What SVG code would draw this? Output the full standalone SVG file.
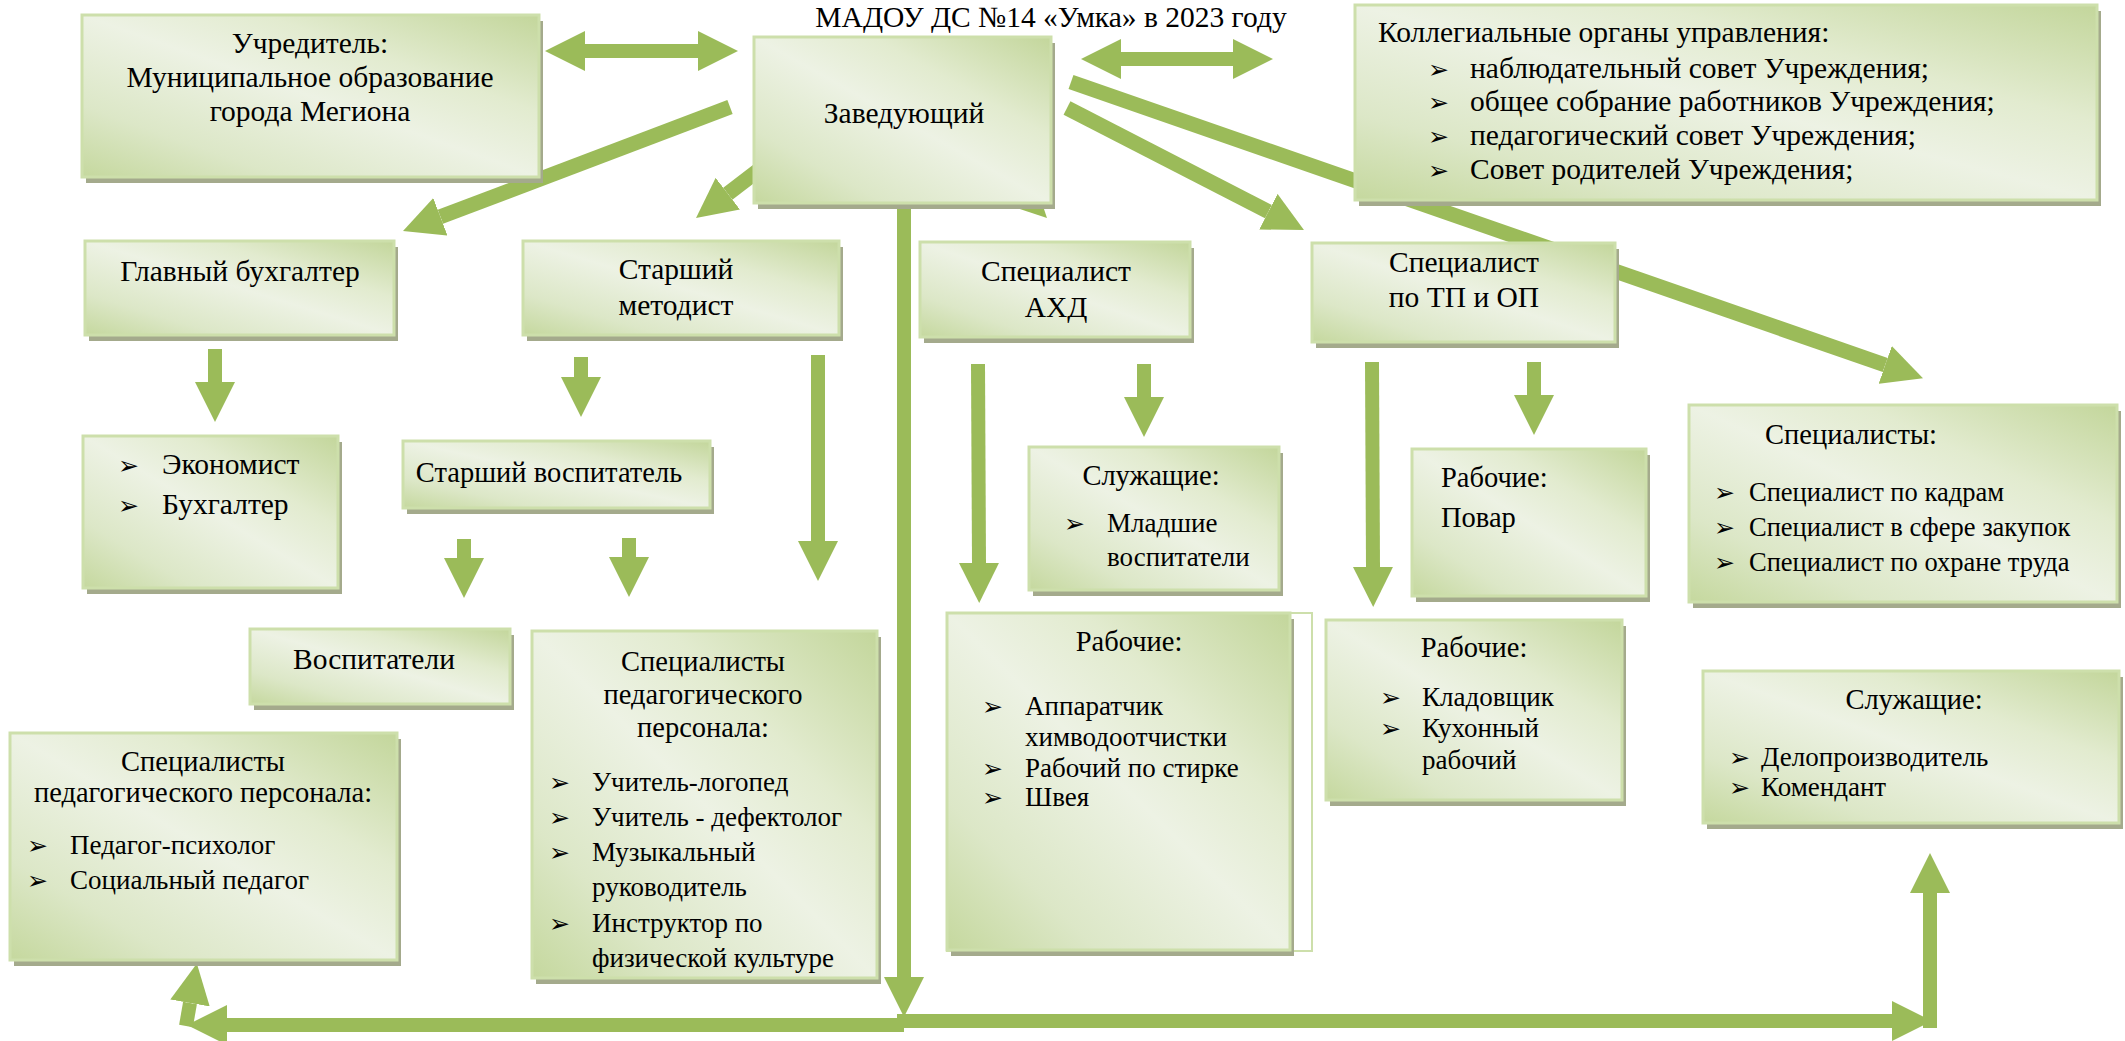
<svg xmlns="http://www.w3.org/2000/svg" width="2125" height="1041" viewBox="0 0 2125 1041" font-family="Liberation Serif, Times New Roman, serif">
<style>
.bx{fill:url(#g);stroke:#cddfab;stroke-width:3}
.sh{fill:#a4aa8c}
.t{font-family:"Liberation Serif","Times New Roman",serif;font-size:29.5px;fill:#000}
.m{font-size:28.5px}
.i{font-size:27px}
.s{font-size:26.5px}
.c{text-anchor:middle}
.bl{font-family:"DejaVu Sans",sans-serif;font-size:25px}
.ln{stroke:#9bbb59;fill:none;stroke-linecap:butt}
.w15{stroke-width:15}
.w14{stroke-width:14}
</style>
<defs>
<linearGradient id="g" x1="1" y1="0" x2="0" y2="1">
<stop offset="0" stop-color="#c3d69b"/>
<stop offset="0.3" stop-color="#e2ebcf"/>
<stop offset="0.5" stop-color="#edf2e4"/>
<stop offset="0.78" stop-color="#dce7c7"/>
<stop offset="1" stop-color="#c5d89e"/>
</linearGradient>
<marker id="ah" viewBox="0 0 40 40" markerWidth="40" markerHeight="40" refX="0" refY="20" orient="auto-start-reverse" markerUnits="userSpaceOnUse">
<path d="M0,0 L40,20 L0,40 Z" fill="#9bbb59"/>
</marker>
</defs>
<rect width="2125" height="1041" fill="#fff"/>
<text class="t c" x="1051" y="27">МАДОУ ДС №14 «Умка» в 2023 году</text>

<g id="connectors">
<line class="ln w14" x1="585" y1="51" x2="698" y2="51" marker-start="url(#ah)" marker-end="url(#ah)"/>
<line class="ln w14" x1="1121" y1="59" x2="1233" y2="59" marker-start="url(#ah)" marker-end="url(#ah)"/>
<line class="ln w15" x1="730" y1="107" x2="440.4" y2="216.8" marker-end="url(#ah)"/>
<line class="ln w15" x1="798" y1="140" x2="727.8" y2="193.7" marker-end="url(#ah)"/>
<line class="ln w15" x1="969" y1="140" x2="1018.7" y2="189.7" marker-end="url(#ah)"/>
<line class="ln w15" x1="1067" y1="108" x2="1268.4" y2="211.7" marker-end="url(#ah)"/>
<line class="ln w15" x1="1071" y1="82" x2="1885.2" y2="365" marker-end="url(#ah)"/>
<line class="ln w14" x1="215" y1="349" x2="215" y2="382" marker-end="url(#ah)"/>
<line class="ln w14" x1="581" y1="357" x2="581" y2="377" marker-end="url(#ah)"/>
<line class="ln w14" x1="818" y1="355" x2="818" y2="541" marker-end="url(#ah)"/>
<line class="ln w14" x1="464" y1="539" x2="464" y2="558" marker-end="url(#ah)"/>
<line class="ln w14" x1="629" y1="538" x2="629" y2="557" marker-end="url(#ah)"/>
<line class="ln w14" x1="978" y1="364" x2="979" y2="563" marker-end="url(#ah)"/>
<line class="ln w14" x1="1144" y1="364" x2="1144" y2="397" marker-end="url(#ah)"/>
<line class="ln w14" x1="1372" y1="362" x2="1373" y2="567" marker-end="url(#ah)"/>
<line class="ln w14" x1="1534" y1="362" x2="1534" y2="395" marker-end="url(#ah)"/>
<line class="ln w14" x1="904" y1="143" x2="904" y2="977" marker-end="url(#ah)"/>
<line class="ln w14" x1="904" y1="1025" x2="227" y2="1025" marker-end="url(#ah)"/>
<line class="ln w14" x1="897" y1="1021" x2="1892" y2="1021" marker-end="url(#ah)"/>
<line class="ln w14" x1="1930" y1="1028" x2="1930" y2="893" marker-end="url(#ah)"/>
<line class="ln w14" x1="186" y1="1026" x2="190" y2="1003" marker-end="url(#ah)"/>
</g>

<g id="n-uchreditel">
<rect class="sh" x="86" y="21" width="457" height="162"/>
<rect class="bx" x="82" y="15" width="457" height="162"/>
<text class="t c" x="310" y="53">Учредитель:</text>
<text class="t c" x="310" y="87">Муниципальное образование</text>
<text class="t c" x="310" y="121">города Мегиона</text>
</g>

<g id="n-zaveduyushchiy">
<rect class="sh" x="758" y="43" width="297" height="166"/>
<rect class="bx" x="754" y="37" width="297" height="166"/>
<text class="t c" x="904" y="123">Заведующий</text>
</g>

<g id="n-kollegialnye">
<rect class="sh" x="1359" y="11" width="742" height="195"/>
<rect class="bx" x="1355" y="5" width="742" height="195"/>
<text class="t" x="1378" y="42">Коллегиальные органы управления:</text>
<text class="t" x="1428" y="78"><tspan class="bl">➢</tspan><tspan x="1470">наблюдательный совет Учреждения;</tspan></text>
<text class="t" x="1428" y="111"><tspan class="bl">➢</tspan><tspan x="1470">общее собрание работников Учреждения;</tspan></text>
<text class="t" x="1428" y="145"><tspan class="bl">➢</tspan><tspan x="1470">педагогический совет Учреждения;</tspan></text>
<text class="t" x="1428" y="179"><tspan class="bl">➢</tspan><tspan x="1470">Совет родителей Учреждения;</tspan></text>
</g>

<g id="n-glavbuh">
<rect class="sh" x="89" y="247" width="309" height="94"/>
<rect class="bx" x="85" y="241" width="309" height="94"/>
<text class="t c" x="240" y="281">Главный бухгалтер</text>
</g>

<g id="n-metodist">
<rect class="sh" x="527" y="247" width="316" height="94"/>
<rect class="bx" x="523" y="241" width="316" height="94"/>
<text class="t c" x="676" y="279">Старший</text>
<text class="t c" x="676" y="315">методист</text>
</g>

<g id="n-ahd">
<rect class="sh" x="924" y="248" width="270" height="95"/>
<rect class="bx" x="920" y="242" width="270" height="95"/>
<text class="t c" x="1056" y="281">Специалист</text>
<text class="t c" x="1056" y="317">АХД</text>
</g>

<g id="n-tp">
<rect class="sh" x="1316" y="249" width="303" height="99"/>
<rect class="bx" x="1312" y="243" width="303" height="99"/>
<text class="t c" x="1464" y="272">Специалист</text>
<text class="t c" x="1464" y="307">по ТП и ОП</text>
</g>

<g id="n-ekonomist">
<rect class="sh" x="87" y="442" width="255" height="152"/>
<rect class="bx" x="83" y="436" width="255" height="152"/>
<text class="t" x="118" y="474"><tspan class="bl">➢</tspan><tspan x="162">Экономист</tspan></text>
<text class="t" x="118" y="514"><tspan class="bl">➢</tspan><tspan x="162">Бухгалтер</tspan></text>
</g>

<g id="n-st-vospitatel">
<rect class="sh" x="407" y="447" width="307" height="67"/>
<rect class="bx" x="403" y="441" width="307" height="67"/>
<text class="t m c" x="549" y="482">Старший воспитатель</text>
</g>

<g id="n-sluzhashchie1">
<rect class="sh" x="1033" y="453" width="250" height="143"/>
<rect class="bx" x="1029" y="447" width="250" height="143"/>
<text class="t m c" x="1151" y="485">Служащие:</text>
<text class="t i" x="1064" y="532"><tspan class="bl">➢</tspan><tspan x="1107">Младшие</tspan></text>
<text class="t i" x="1107" y="566">воспитатели</text>
</g>

<g id="n-rabochie-povar">
<rect class="sh" x="1416" y="455" width="234" height="147"/>
<rect class="bx" x="1412" y="449" width="234" height="147"/>
<text class="t m" x="1441" y="487">Рабочие:</text>
<text class="t m" x="1441" y="527">Повар</text>
</g>

<g id="n-specialisty">
<rect class="sh" x="1693" y="411" width="428" height="197"/>
<rect class="bx" x="1689" y="405" width="428" height="197"/>
<text class="t m c" x="1851" y="444">Специалисты:</text>
<text class="t s" x="1714" y="501"><tspan class="bl">➢</tspan><tspan x="1749">Специалист по кадрам</tspan></text>
<text class="t s" x="1714" y="536"><tspan class="bl">➢</tspan><tspan x="1749">Специалист в сфере закупок</tspan></text>
<text class="t s" x="1714" y="571"><tspan class="bl">➢</tspan><tspan x="1749">Специалист по охране труда</tspan></text>
</g>

<g id="n-vospitateli">
<rect class="sh" x="254" y="635" width="260" height="75"/>
<rect class="bx" x="250" y="629" width="260" height="75"/>
<text class="t c" x="374" y="669">Воспитатели</text>
</g>

<g id="n-spec-ped-1">
<rect class="sh" x="536" y="637" width="345" height="347"/>
<rect class="bx" x="532" y="631" width="345" height="347"/>
<text class="t m c" x="703" y="671">Специалисты</text>
<text class="t m c" x="703" y="704">педагогического</text>
<text class="t m c" x="703" y="737">персонала:</text>
<text class="t i" x="549" y="791"><tspan class="bl">➢</tspan><tspan x="592">Учитель-логопед</tspan></text>
<text class="t i" x="549" y="826"><tspan class="bl">➢</tspan><tspan x="592">Учитель - дефектолог</tspan></text>
<text class="t i" x="549" y="861"><tspan class="bl">➢</tspan><tspan x="592">Музыкальный</tspan></text>
<text class="t i" x="592" y="896">руководитель</text>
<text class="t i" x="549" y="932"><tspan class="bl">➢</tspan><tspan x="592">Инструктор по</tspan></text>
<text class="t i" x="592" y="967">физической культуре</text>
</g>

<g id="n-spec-ped-2">
<rect class="sh" x="14" y="739" width="387" height="227"/>
<rect class="bx" x="10" y="733" width="387" height="227"/>
<text class="t m c" x="203" y="771">Специалисты</text>
<text class="t m c" x="203" y="802">педагогического персонала:</text>
<text class="t i" x="27" y="854"><tspan class="bl">➢</tspan><tspan x="70">Педагог-психолог</tspan></text>
<text class="t i" x="27" y="889"><tspan class="bl">➢</tspan><tspan x="70">Социальный педагог</tspan></text>
</g>

<g id="n-rabochie-ahd">
<rect x="947" y="613" width="365" height="338" fill="none" stroke="#cddfab" stroke-width="2"/>
<rect class="sh" x="951" y="619" width="343" height="337"/>
<rect class="bx" x="947" y="613" width="343" height="337"/>
<text class="t m c" x="1129" y="651">Рабочие:</text>
<text class="t i" x="982" y="715"><tspan class="bl">➢</tspan><tspan x="1025">Аппаратчик</tspan></text>
<text class="t i" x="1025" y="746">химводоотчистки</text>
<text class="t i" x="982" y="777"><tspan class="bl">➢</tspan><tspan x="1025">Рабочий по стирке</tspan></text>
<text class="t i" x="982" y="806"><tspan class="bl">➢</tspan><tspan x="1025">Швея</tspan></text>
</g>

<g id="n-rabochie-klad">
<rect class="sh" x="1330" y="626" width="296" height="180"/>
<rect class="bx" x="1326" y="620" width="296" height="180"/>
<text class="t m c" x="1474" y="657">Рабочие:</text>
<text class="t i" x="1380" y="706"><tspan class="bl">➢</tspan><tspan x="1422">Кладовщик</tspan></text>
<text class="t i" x="1380" y="737"><tspan class="bl">➢</tspan><tspan x="1422">Кухонный</tspan></text>
<text class="t i" x="1422" y="769">рабочий</text>
</g>

<g id="n-sluzhashchie2">
<rect class="sh" x="1707" y="677" width="416" height="152"/>
<rect class="bx" x="1703" y="671" width="416" height="152"/>
<text class="t m c" x="1914" y="709">Служащие:</text>
<text class="t i" x="1729" y="766"><tspan class="bl">➢</tspan><tspan x="1761">Делопроизводитель</tspan></text>
<text class="t i" x="1729" y="796"><tspan class="bl">➢</tspan><tspan x="1761">Комендант</tspan></text>
</g>
</svg>
